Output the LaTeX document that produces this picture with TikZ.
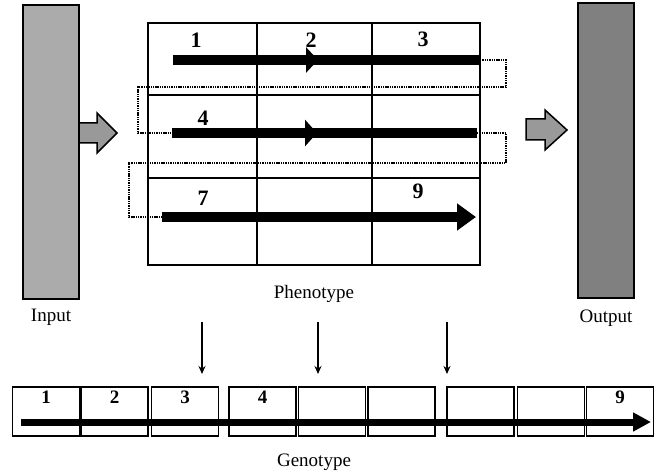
\documentclass[tikz,border=0pt]{standalone}
\usepackage{fontspec}
\setmainfont{Liberation Serif}
\usetikzlibrary{arrows.meta}

\begin{document}
\begin{tikzpicture}[x=1pt, y=-1pt,
  bar/.style={draw, line width=1.5pt, minimum width=56pt, inner sep=0pt},
  gridline/.style={line width=1.2pt},
  thickline/.style={line width=10pt},
  loopline/.style={line width=1.8pt, dash pattern=on 1.4pt off 0.9pt},
  blockarr/.style={draw, line width=1.5pt, fill=black!40},
  genebox/.style={draw, line width=1.8pt, minimum width=67pt, minimum height=49pt, inner sep=0pt},
  downarrow/.style={line width=1.6pt, -{Stealth[length=8pt,width=7pt]}},
  lbl/.style={font=\fontsize{19}{21}\selectfont},
  cellnum/.style={font=\fontsize{22}{24}\selectfont\bfseries},
  genenum/.style={font=\fontsize{19}{21}\selectfont\bfseries}]
\useasboundingbox (0,0) rectangle (660,473);

% Input and output bars
\node[bar, fill=black!33, minimum height=294pt] (input) at (51,152) {};
\node[lbl] (inlabel) at (51,317) {Input};
\node[bar, fill=black!50, minimum height=295pt] (output) at (606,150.5) {};
\node[lbl] (outlabel) at (606,318) {Output};

% Block arrows
\filldraw[blockarr] (79,123) -- (97,123) -- (97,113) -- (117,133) -- (97,153) -- (97,143) -- (79,143) -- cycle;
\filldraw[blockarr] (526,119) -- (545,119) -- (545,110) -- (567,130) -- (545,150) -- (545,140) -- (526,140) -- cycle;

% Phenotype grid
\node[draw, line width=1.2pt, minimum width=332pt, minimum height=242pt, inner sep=0pt] (pheno) at (314,144) {};
\foreach \x in {257,372} \draw[gridline] (\x,23) -- (\x,265);
\foreach \y in {95,178} \draw[gridline] (148,\y) -- (480,\y);
\node[lbl] (phenolabel) at (314,294) {Phenotype};

% Cell numbers
\node[cellnum] (n1) at (196,40) {1};
\node[cellnum] (n2) at (311,40) {2};
\node[cellnum] (n3) at (423,39) {3};
\node[cellnum] (n4) at (203,118) {4};
\node[cellnum] (n7) at (203,198) {7};
\node[cellnum] (n9) at (418,191) {9};

% Reading order through the grid
\coordinate (r1s) at (173,60);  \coordinate (r1m) at (318,60);  \coordinate (r1e) at (480,60);
\coordinate (r2s) at (172,133); \coordinate (r2m) at (317,133); \coordinate (r2e) at (477,133);
\coordinate (r3s) at (162,217); \coordinate (r3e) at (476,217);
\draw[thickline] (r1s) -- (r1e);
\draw[thickline, -{Triangle[length=12pt,width=25pt]}] ([xshift=-16pt]r1m) -- (r1m);
\draw[thickline] (r2s) -- (r2e);
\draw[thickline, -{Triangle[length=12pt,width=26pt]}] ([xshift=-16pt]r2m) -- (r2m);
\draw[thickline, -{Triangle[length=19pt,width=26pt]}] (r3s) -- (r3e);
\draw[loopline] (r1e) -- ++(26,0) -- ++(0,27) -- (138,87) -- (138,133) -- (r2s);
\draw[loopline] (r2e) -- ++(29,0) -- ++(0,30) -- (129,163) -- (129,217) -- (r3s);

% Mapping arrows
\foreach \x [count=\i] in {202,318,447} {
  \coordinate (dt\i) at (\x,322);
  \coordinate (db\i) at (\x,374);
  \draw[downarrow] (dt\i) -- (db\i);
}

% Genotype string
\foreach \c [count=\i] in {46,114.5,185,262.5,332,401.5,480.5,551,620}
  \node[genebox] (g\i) at (\c,411.5) {};
\foreach \i in {1,2,3,4,9}
  \node[genenum] (gn\i) at ([yshift=-11pt]g\i.north) {\i};
\coordinate (gs) at (21,422);
\coordinate (ge) at (651,422);
\draw[line width=7pt, -{Triangle[length=18pt,width=18pt]}] (gs) -- (ge);
\node[lbl] (genolabel) at (314,462) {Genotype};

\end{tikzpicture}
\end{document}
